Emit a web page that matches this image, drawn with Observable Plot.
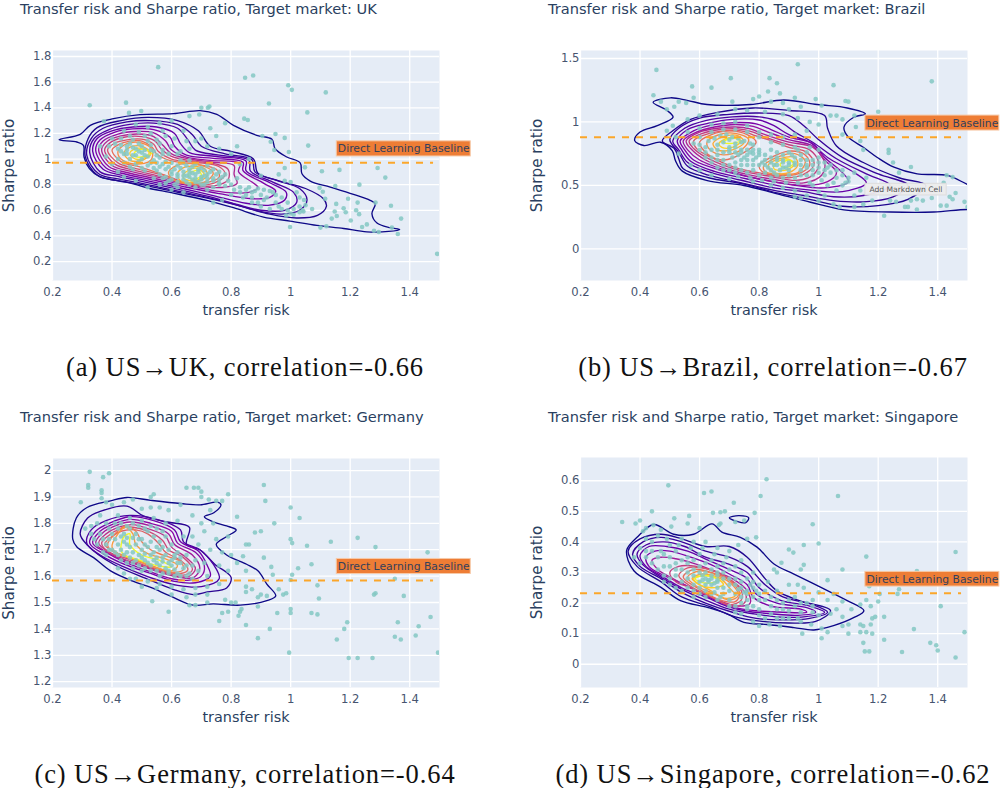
<!DOCTYPE html>
<html><head><meta charset="utf-8">
<script src="https://cdn.jsdelivr.net/npm/d3@7"></script>
<script src="https://cdn.jsdelivr.net/npm/@observablehq/plot@0.6"></script>
<style>
html,body{margin:0;padding:0;background:#fff;}
#page{position:relative;width:1000px;height:788px;overflow:hidden;}
.title{position:absolute;font:14.6px "DejaVu Sans",sans-serif;color:#2a3f5f;white-space:nowrap;line-height:18px;}
.cap{position:absolute;font:26.5px "Liberation Serif",serif;letter-spacing:.9px;color:#111;white-space:nowrap;text-align:center;width:500px;line-height:28px;}
svg{position:absolute;overflow:visible;}
</style></head><body><div id="page"></div>
<script>
const xTicks=[0.2,0.4,0.6,0.8,1,1.2,1.4];
const ukTicks=[0.2,0.4,0.6,0.8,1,1.2,1.4,1.6,1.8];
const brTicks=[0,0.5,1,1.5];
const deTicks=[1.2,1.3,1.4,1.5,1.6,1.7,1.8,1.9,2];
const sgTicks=[0,0.1,0.2,0.3,0.4,0.5,0.6];

const ukPoints=[[.555,1.717],[.325,1.42],[.447,1.44],[.457,1.36],[.498,1.375],[.373,1.295],[.847,1.634],[.874,1.652],[.992,1.576],[1.004,1.54],[1.118,1.52],[.927,1.433],[1.056,1.364],[.70,1.40],[.722,1.40],[.727,1.41],[.693,1.347],[.66,1.335],[.844,1.315],[.856,1.305],[.905,1.18],[.949,1.195],[.98,1.165],[.933,1.135],[1.059,1.105],[.994,1.055],[.945,1.07],[1.048,.935],[1.164,.915],[1.105,.905],[1.292,.93],[1.318,.855],[1.231,.80],[1.15,.79],[1.337,.635],[1.285,.66],[1.371,.535],[1.36,.415],[1.296,.43],[1.28,.44],[1.34,.465],[1.492,.26],[1.256,.49],[1.24,.47],[1.202,.52],[1.138,.535],[1.155,.555],[1.148,.59],[1.185,.585],[1.178,.615],[1.153,.65],[1.193,.69],[1.225,.66],[1.22,.60],[1.23,.57],[1.097,.775],[1.108,.745],[1.116,.69],[1.072,.61],[1.043,.59],[1.10,.465],[1.12,.475],[.998,.47],[1.0,.575],[.985,.56],[1.01,.565],[1.03,.585],[1.04,.60],[1.05,.64],[1.045,.68],[1.03,.70],[1.02,.74],[1.0,.82],[.98,.83],[.96,.88],[.98,.93],[.90,.87],[.86,.78],[.88,.75],[.90,.72],[.92,.70],[.94,.74],[.97,.70],[.99,.66],[.96,.63],[.93,.61],[.90,.63],[.87,.66],[.84,.70],[.83,.74],[.80,.72],[.77,.68],[.74,.66],[.80,.80],[.82,.85],[.76,.80],[.72,.76],[.68,.78],[.64,.74],[.60,.76],[.56,.80],[.52,.78],[.48,.83],[.44,.86],[.42,.90],[.40,.96],[.38,1.02],[.36,1.10],[.40,1.16],[.44,1.22],[.48,1.27],[.52,1.25],[.56,1.28],[.60,1.30],[.64,1.22],[.70,1.16],[.73,1.24],[.75,1.18],[.78,1.28],[.82,1.10],[.80,1.04],[.76,1.08],[.72,1.10],[.68,1.14],[.66,1.08],[.86,1.0],[.83,.96],[.46,1.12],[.48,1.08],[.50,1.10],[.52,1.14],[.54,1.06],[.56,1.12],[.58,1.18],[.60,1.10],[.62,1.04],[.44,1.04],[.46,1.0],[.48,1.03],[.50,1.05],[.50,1.0],[.52,1.02],[.54,.99],[.56,1.01],[.58,.98],[.60,.97],[.62,.95],[.64,.97],[.66,.99],[.68,.96],[.70,.93],[.72,.95],[.74,.92],[.76,.90],[.78,.88],[.52,.95],[.54,.93],[.56,.94],[.58,.92],[.60,.90],[.62,.88],[.64,.90],[.66,.92],[.68,.88],[.70,.86],[.72,.88],[.74,.85],[.76,.84],[.50,.93],[.48,.96],[.46,.94],[.44,.97],[.42,1.0],[.42,1.08],[.56,.88],[.58,.86],[.60,.84],[.62,.82],[.64,.84],[.66,.86],[.68,.82],[.70,.80],[.72,.82],[.74,.78],[.66,.80],[.62,.78],[.58,.81],[.54,.85],[.51,1.07],[.49,1.06],[.53,1.07],[.67,.89],[.69,.90],[.71,.87],[.65,.87],[.47,1.09],[.45,1.07],[.43,1.11],[.47,1.15],[.51,1.18],[.55,1.15],[.53,1.11],[.57,1.07],[.55,1.03],[.59,1.04],[.47,1.03],[.45,1.10],[.49,1.12],[.51,1.03],[.53,.97],[.49,.98],[.47,.92],[.51,.91],[.55,.91],[.57,.96],[.59,.94],[.61,.92],[.63,.93],[.65,.95],[.67,.94],[.69,.92],[.71,.91],[.73,.90],[.75,.88],[.77,.86],[.79,.83],[.60,.88],[.62,.86],[.64,.87],[.66,.89],[.68,.85],[.70,.84],[.72,.85],[.74,.83],[.76,.81],[.78,.79],[.81,.76],[.83,.78],[.85,.76],[.87,.74],[.89,.77],[.91,.76],[.93,.75],[.95,.72],[.91,.68],[.89,.66],[.95,.66],[.97,.61],[.99,.60],[1.01,.61],[1.03,.63],[.87,.70],[.85,.72],[.55,.97],[.65,.82],[.67,.84],[.69,.82],[.71,.80],[.61,.80],[.59,.83],[.57,.85],[.63,.99],[.57,1.04],[.45,1.04],[.43,1.06],[.41,1.12],[.39,1.10],[.43,1.16],[.46,1.18],[.49,1.21],[.53,1.2],[.57,1.22],[.61,1.16],[.65,1.14],[.63,1.06]];
const brPoints=[[.455,1.41],[.445,1.21],[.47,1.16],[.49,1.10],[.515,1.12],[.53,1.16],[.555,1.15],[.58,1.19],[.575,1.28],[.64,1.27],[.705,1.345],[.71,1.16],[.835,1.345],[.86,1.305],[.83,1.24],[.87,1.225],[.93,1.455],[1.05,1.29],[1.38,1.32],[1.20,1.08],[.80,1.20],[.78,1.18],[.84,1.16],[.88,1.15],[.92,1.19],[.99,1.18],[1.09,1.165],[1.10,1.16],[1.01,1.13],[.94,1.12],[.90,1.1],[1.04,1.05],[1.06,1.05],[1.08,1.02],[1.12,1.05],[1.125,.96],[1.08,.90],[1.14,.85],[1.15,.78],[1.235,.78],[1.235,.755],[1.25,.68],[1.31,.645],[1.27,.60],[1.43,.58],[1.45,.565],[1.42,.52],[1.46,.44],[1.49,.37],[1.45,.39],[1.43,.34],[1.41,.34],[1.44,.41],[1.50,.33],[1.38,.40],[1.33,.39],[1.31,.38],[1.35,.38],[1.30,.33],[1.29,.33],[1.33,.31],[1.22,.26],[1.26,.37],[1.24,.38],[1.18,.38],[1.15,.35],[1.12,.33],[1.07,.33],[1.05,.35],[1.0,.38],[1.02,.42],[1.0,.45],[.96,.42],[.94,.40],[.92,.41],[1.06,.46],[1.08,.50],[1.10,.53],[1.14,.46],[1.12,.42],[1.03,.50],[.98,.50],[.92,.46],[.88,.48],[.84,.50],[.78,.53],[.70,.55],[.64,.58],[.60,.62],[.57,.66],[.53,.75],[.51,.97],[.49,.93],[.52,.88],[.56,1.02],[.60,1.05],[.66,1.06],[.72,1.10],[.76,1.09],[.82,1.08],[.88,1.06],[.93,1.03],[.97,1.0],[1.0,.98],[.96,.93],[.92,.90],[.88,.88],[.84,.90],[.80,.92],[.76,.97],[.72,1.0],[.68,.99],[.64,.98],[.60,.95],[.56,.92],[.58,.83],[.60,.78],[.62,.72],[.64,.68],[.66,.64],[.68,.70],[.70,.76],[.72,.80],[.74,.84],[.66,.82],[.68,.84],[.70,.86],[.72,.83],[.70,.80],[.66,.78],[.74,.78],[.76,.74],[.78,.78],[.80,.74],[.78,.70],[.76,.66],[.74,.70],[.72,.68],[.70,.62],[.74,.62],[.78,.62],[.82,.60],[.80,.66],[.82,.70],[.84,.68],[.86,.72],[.88,.70],[.90,.68],[.92,.66],[.89,.64],[.87,.62],[.85,.60],[.90,.62],[.94,.62],[.96,.66],[.94,.70],[.98,.62],[1.0,.60],[1.02,.58],[1.04,.60],[1.03,.64],[1.0,.68],[.96,.58],[.92,.56],[.88,.56],[.84,.56],[.80,.58],[.76,.60],[1.06,.56],[1.08,.58],[1.12,.60],[1.16,.56],[1.10,.56],[.78,.82],[.80,.78],[.77,.76],[.75,.72],[.79,.72],[.81,.68],[.83,.64],[.85,.66],[.73,.74],[.71,.72],[.91,.74],[.93,.78],[.97,.80],[1.0,.78],[.63,.85],[.65,.87],[.67,.89],[.69,.90],[.71,.88],[.73,.87],[.75,.85],[.77,.83],[.62,.80],[.64,.78],[.66,.74],[.68,.76],[.70,.78],[.72,.76],[.74,.76],[.76,.78],[.78,.75],[.80,.76],[.82,.74],[.84,.72],[.86,.70],[.88,.68],[.90,.66],[.92,.68],[.94,.66],[.96,.64],[.98,.66],[1.0,.64],[1.02,.62],[.86,.66],[.88,.64],[.84,.62],[.86,.58],[.90,.58],[.94,.58],[.98,.58],[.82,.66],[.78,.66],[.76,.70],[.74,.66],[.72,.64],[.70,.66],[.68,.66],[.68,.62],[.72,.60],[.66,.70],[.64,.72],[.62,.76],[.60,.82],[.60,.88],[.64,.92],[.68,.94],[.72,.94],[.76,.92],[.80,.88],[.84,.84],[.88,.82],[.92,.80],[.96,.76],[1.0,.72],[.84,.78],[.86,.76],[.88,.74],[.90,.76],[.92,.72],[.94,.74],[.96,.70],[.98,.70],[1.02,.68],[1.04,.66],[1.06,.62],[1.08,.62],[.93,.52],[.97,.52],[1.01,.54],[1.05,.52],[1.09,.52],[.89,.52],[.85,.53],[.81,.54],[.77,.56],[.73,.57]];
const dePoints=[[.325,1.995],[.39,1.99],[.37,1.975],[.32,1.945],[.32,1.935],[.365,1.925],[.365,1.915],[.365,1.895],[.295,1.88],[.38,1.88],[.54,1.91],[.53,1.90],[.65,1.935],[.675,1.935],[.69,1.935],[.70,1.92],[.70,1.90],[.725,1.89],[.79,1.91],[.91,1.945],[.915,1.885],[.82,1.825],[.75,1.885],[.77,1.885],[1.0,1.86],[1.03,1.82],[.945,1.80],[.90,1.77],[.88,1.765],[1.0,1.74],[1.005,1.725],[1.055,1.715],[1.135,1.73],[1.225,1.745],[1.285,1.71],[1.46,1.69],[.86,1.72],[.85,1.72],[.84,1.675],[.91,1.67],[.935,1.635],[1.07,1.645],[1.025,1.63],[1.005,1.605],[1.0,1.585],[.94,1.605],[.96,1.55],[.975,1.53],[.985,1.535],[1.09,1.565],[1.095,1.515],[1.285,1.535],[1.28,1.53],[1.38,1.525],[1.35,1.59],[.955,1.46],[1.0,1.475],[1.0,1.46],[1.07,1.46],[1.09,1.455],[1.19,1.425],[1.18,1.40],[1.36,1.425],[1.43,1.41],[1.47,1.445],[1.42,1.375],[1.35,1.37],[1.37,1.36],[1.155,1.36],[.93,1.40],[.89,1.365],[.995,1.31],[1.195,1.29],[1.225,1.29],[1.275,1.29],[1.495,1.31],[.85,1.415],[.76,1.43],[.77,1.46],[.79,1.465],[.825,1.45],[.83,1.465],[.835,1.475],[.89,1.485],[.59,1.465],[.535,1.505],[.66,1.49],[.68,1.49],[.72,1.50],[.78,1.51],[.80,1.50],[.815,1.50],[.89,1.52],[.90,1.53],[.92,1.525],[.85,1.56],[.85,1.54],[.87,1.55],[.76,1.57],[.72,1.56],[.68,1.555],[.65,1.52],[.60,1.53],[.55,1.555],[.50,1.56],[.46,1.59],[.42,1.63],[.38,1.68],[.34,1.74],[.31,1.78],[.33,1.79],[.36,1.83],[.40,1.87],[.44,1.88],[.47,1.89],[.50,1.855],[.53,1.86],[.56,1.86],[.59,1.85],[.63,1.87],[.67,1.83],[.70,1.80],[.73,1.85],[.74,1.80],[.71,1.77],[.75,1.74],[.79,1.75],[.77,1.69],[.80,1.68],[.82,1.65],[.79,1.62],[.85,1.62],[.76,1.64],[.72,1.60],[.66,1.61],[.64,1.75],[.62,1.81],[.58,1.80],[.54,1.82],[.50,1.81],[.46,1.82],[.42,1.83],[.38,1.80],[.36,1.76],[.40,1.76],[.42,1.78],[.44,1.76],[.46,1.78],[.48,1.76],[.50,1.74],[.52,1.77],[.54,1.75],[.56,1.73],[.58,1.75],[.60,1.72],[.62,1.69],[.65,1.68],[.68,1.66],[.38,1.72],[.40,1.70],[.42,1.72],[.44,1.73],[.46,1.71],[.48,1.72],[.50,1.70],[.52,1.71],[.54,1.69],[.56,1.70],[.58,1.68],[.60,1.66],[.62,1.65],[.64,1.63],[.42,1.68],[.44,1.68],[.46,1.67],[.48,1.66],[.50,1.67],[.52,1.65],[.54,1.66],[.56,1.64],[.58,1.63],[.60,1.64],[.62,1.61],[.50,1.62],[.53,1.62],[.56,1.60],[.59,1.61],[.47,1.63],[.47,1.745],[.51,1.685],[.55,1.67],[.57,1.655],[.61,1.625],[.45,1.745],[.43,1.70],[.39,1.78],[.41,1.80],[.43,1.80],[.45,1.79],[.47,1.80],[.49,1.79],[.51,1.78],[.53,1.79],[.55,1.78],[.57,1.77],[.37,1.74],[.39,1.74],[.41,1.74],[.43,1.75],[.45,1.72],[.49,1.74],[.51,1.72],[.53,1.73],[.55,1.71],[.57,1.71],[.59,1.70],[.61,1.68],[.63,1.67],[.67,1.64],[.39,1.70],[.41,1.69],[.43,1.66],[.45,1.69],[.47,1.69],[.49,1.68],[.51,1.66],[.53,1.68],[.55,1.65],[.57,1.67],[.59,1.65],[.61,1.67],[.63,1.65],[.65,1.64],[.45,1.65],[.47,1.65],[.49,1.64],[.51,1.63],[.53,1.64],[.55,1.62],[.57,1.61],[.59,1.62],[.61,1.60],[.63,1.60],[.65,1.60],[.67,1.59],[.69,1.62],[.71,1.65],[.73,1.70],[.69,1.72],[.67,1.75],[.35,1.80],[.33,1.76],[.35,1.72],[.37,1.69],[.44,1.61],[.48,1.59],[.52,1.58],[.56,1.57],[.60,1.56],[.64,1.55],[.68,1.53],[.72,1.53]];
const sgPoints=[[.495,.585],[.615,.56],[.64,.565],[.825,.605],[.805,.55],[.715,.528],[.645,.495],[.67,.497],[.685,.50],[.785,.495],[.44,.50],[.565,.485],[.515,.477],[.34,.465],[.385,.46],[.40,.47],[.56,.46],[.42,.445],[.445,.455],[.41,.435],[.505,.45],[.47,.44],[.60,.445],[.67,.46],[.665,.455],[.72,.465],[.75,.47],[.98,.458],[1.065,.55],[.79,.415],[.76,.41],[.73,.39],[1.0,.395],[.90,.375],[.915,.365],[.95,.39],[.875,.332],[.95,.325],[.94,.31],[.85,.31],[.86,.30],[1.08,.31],[1.16,.352],[1.46,.367],[1.33,.305],[1.03,.275],[1.17,.255],[1.27,.245],[1.265,.23],[1.205,.23],[1.16,.21],[1.20,.205],[1.175,.19],[1.41,.19],[1.08,.205],[1.11,.18],[1.14,.195],[1.19,.155],[1.18,.15],[1.22,.155],[1.08,.155],[1.175,.13],[1.14,.13],[1.15,.125],[1.10,.10],[1.14,.105],[1.16,.105],[1.18,.10],[1.22,.08],[1.32,.115],[1.49,.105],[1.15,.07],[1.155,.042],[1.17,.042],[1.28,.04],[1.375,.07],[1.395,.062],[1.4,.045],[1.46,.022],[1.01,.085],[1.03,.105],[1.01,.117],[1.08,.125],[1.10,.13],[.945,.10],[.975,.13],[.87,.125],[.80,.125],[.835,.13],[.78,.14],[.82,.15],[.88,.15],[.93,.15],[1.04,.165],[1.06,.18],[1.03,.21],[.98,.21],[1.0,.235],[1.05,.23],[.98,.19],[.94,.17],[.92,.19],[.90,.175],[.88,.20],[.86,.18],[.84,.165],[.80,.18],[.76,.19],[.74,.165],[.84,.22],[.86,.24],[.90,.26],[.93,.26],[.95,.25],[.83,.27],[.80,.26],[.78,.30],[.74,.34],[.70,.37],[.66,.38],[.62,.40],[.58,.40],[.54,.41],[.50,.39],[.46,.42],[.42,.41],[.40,.38],[.38,.35],[.42,.35],[.44,.37],[.48,.36],[.52,.37],[.56,.35],[.60,.36],[.64,.34],[.68,.33],[.72,.32],[.76,.28],[.44,.33],[.48,.32],[.50,.35],[.52,.33],[.54,.31],[.56,.33],[.58,.31],[.60,.32],[.62,.30],[.64,.31],[.66,.29],[.68,.30],[.70,.28],[.72,.26],[.74,.27],[.76,.24],[.78,.22],[.80,.21],[.48,.29],[.52,.29],[.54,.27],[.56,.28],[.58,.26],[.60,.27],[.62,.28],[.64,.26],[.66,.27],[.68,.25],[.70,.24],[.72,.23],[.74,.22],[.76,.21],[.54,.24],[.58,.24],[.60,.23],[.62,.22],[.65,.235],[.67,.22],[.70,.21],[.72,.19],[.64,.28],[.63,.275],[.61,.275],[.66,.275],[.65,.265],[.73,.245],[.75,.235],[.77,.26],[.79,.24],[.46,.35],[.50,.32],[.54,.34],[.58,.34],[.62,.33],[.66,.32],[.70,.31],[.74,.30],[.78,.27],[.82,.24],[.46,.31],[.50,.28],[.52,.31],[.56,.30],[.58,.29],[.60,.30],[.62,.26],[.64,.29],[.66,.25],[.68,.28],[.70,.26],[.72,.28],[.74,.25],[.76,.23],[.78,.25],[.80,.23],[.82,.21],[.84,.19],[.86,.21],[.88,.18],[.90,.21],[.92,.22],[.94,.20],[.96,.20],[.98,.17],[1.0,.16],[.56,.25],[.58,.22],[.62,.24],[.64,.23],[.66,.21],[.68,.23],[.70,.19],[.74,.20],[.76,.18],[.78,.19],[.72,.17],[.80,.16],[.86,.15],[.90,.15],[.94,.14],[.47,.37],[.49,.41],[.53,.39],[.57,.38],[.61,.38],[.65,.36],[.69,.35],[.40,.33],[.42,.37],[.44,.40],[.52,.25],[.50,.26],[.48,.27],[.60,.25],[.63,.27],[.61,.29],[.66,.30]];

const ukContours=[
[[.222,1.15],[.293,1.193],[.327,1.263],[.405,1.315],[.494,1.346],[.606,1.354],[.696,1.378],[.752,1.349],[.808,1.263],[.886,1.185],[.937,1.154],[.948,1.08],[.987,1.016],[1.032,.97],[1.038,.885],[1.066,.828],[1.133,.781],[1.211,.724],[1.267,.677],[1.284,.651],[1.273,.573],[1.29,.50],[1.335,.464],[1.366,.451],[1.329,.435],[1.256,.432],[1.178,.458],[1.088,.482],[.998,.516],[.909,.547],[.808,.62],[.718,.677],[.606,.734],[.517,.776],[.45,.82],[.36,.86],[.324,.925],[.306,1.016],[.304,1.107],[.282,1.133]],
[[.31,1.02],[.32,1.16],[.35,1.245],[.43,1.30],[.52,1.325],[.62,1.30],[.69,1.22],[.73,1.10],[.80,1.06],[.875,1.0],[.89,.89],[.96,.83],[1.05,.77],[1.11,.69],[1.12,.63],[1.09,.56],[1.02,.54],[.93,.57],[.82,.64],[.72,.695],[.60,.75],[.50,.80],[.42,.83],[.35,.875]],
[[.315,1.03],[.33,1.16],[.37,1.24],[.45,1.29],[.53,1.30],[.62,1.27],[.67,1.19],[.70,1.10],[.78,1.04],[.87,.995],[.88,.90],[.95,.835],[1.03,.77],[1.055,.68],[1.03,.60],[.97,.57],[.88,.60],[.80,.655],[.70,.71],[.60,.76],[.50,.81],[.42,.845],[.355,.885]],
[[.325,1.05],[.34,1.16],[.39,1.23],[.46,1.27],[.54,1.28],[.62,1.24],[.655,1.15],[.68,1.07],[.76,1.03],[.86,.99],[.865,.905],[.94,.82],[1.01,.74],[1.02,.66],[.98,.60],[.90,.60],[.82,.645],[.72,.71],[.60,.775],[.50,.825],[.42,.865],[.36,.90]],
[[.335,1.06],[.35,1.16],[.40,1.22],[.47,1.25],[.55,1.25],[.61,1.20],[.63,1.12],[.66,1.05],[.75,1.02],[.85,.985],[.85,.91],[.93,.815],[.985,.74],[.98,.68],[.93,.64],[.85,.655],[.74,.715],[.62,.78],[.52,.83],[.43,.875],[.37,.92]],
[[.345,1.07],[.36,1.15],[.41,1.21],[.47,1.235],[.54,1.23],[.595,1.17],[.61,1.10],[.65,1.03],[.74,1.005],[.84,.975],[.84,.91],[.91,.81],[.95,.75],[.93,.70],[.87,.69],[.76,.73],[.64,.785],[.53,.84],[.44,.885],[.38,.93]],
[[.355,1.07],[.37,1.14],[.42,1.195],[.48,1.215],[.54,1.205],[.58,1.14],[.60,1.07],[.65,1.015],[.73,.99],[.83,.965],[.825,.90],[.87,.82],[.89,.78],[.86,.74],[.78,.74],[.66,.79],[.54,.85],[.45,.895],[.39,.94]],
[[.365,1.07],[.385,1.14],[.43,1.18],[.49,1.195],[.54,1.175],[.57,1.11],[.60,1.04],[.66,1.00],[.74,.975],[.81,.95],[.81,.88],[.82,.81],[.78,.78],[.68,.79],[.56,.855],[.46,.905],[.40,.95]],
[[.375,1.07],[.395,1.13],[.44,1.17],[.50,1.175],[.545,1.14],[.565,1.08],[.60,1.02],[.67,.985],[.75,.96],[.79,.92],[.79,.84],[.74,.79],[.66,.80],[.57,.86],[.47,.915],[.41,.96]],
[[.385,1.07],[.41,1.125],[.45,1.15],[.50,1.155],[.54,1.115],[.555,1.06],[.60,1.00],[.68,.975],[.76,.94],[.78,.88],[.74,.81],[.66,.805],[.58,.87],[.48,.925],[.42,.97]],
[[.40,1.07],[.42,1.11],[.46,1.14],[.50,1.14],[.535,1.09],[.55,1.04],[.60,.985],[.68,.96],[.75,.92],[.76,.86],[.70,.81],[.63,.82],[.57,.88],[.49,.94],[.43,.98]],
[[.42,1.06],[.45,1.12],[.50,1.125],[.535,1.07],[.53,.99],[.48,.96],[.43,1.0]],
[[.59,.90],[.63,.96],[.70,.95],[.74,.89],[.71,.82],[.64,.81],[.60,.85]],
[[.44,1.05],[.47,1.10],[.51,1.09],[.53,1.04],[.50,.99],[.46,.99]],
[[.62,.89],[.65,.94],[.71,.925],[.72,.87],[.68,.82],[.63,.83]],
[[.46,1.05],[.49,1.085],[.525,1.05],[.50,1.00],[.47,1.01]],
[[.64,.88],[.68,.93],[.71,.88],[.68,.83],[.64,.85]],
[[.475,1.05],[.50,1.075],[.535,1.05],[.51,1.02],[.48,1.02]],
[[.655,.88],[.69,.91],[.70,.87],[.67,.84]]];
const ukLevels=[0,1,2,3,4,5,6,7,8,9,10,11,11,12,12,13,13,14,14];

const brContours=[
[[.444,1.155],[.502,1.19],[.558,1.17],[.625,1.137],[.771,1.137],[.883,1.173],[.995,1.137],[1.096,1.11],[1.157,1.063],[1.118,1.037],[1.085,.958],[1.10,.88],[1.15,.80],[1.197,.72],[1.253,.643],[1.331,.59],[1.432,.578],[1.502,.505],[1.56,.45],[1.56,.30],[1.5,.31],[1.387,.29],[1.241,.29],[1.085,.307],[.973,.367],[.861,.433],[.749,.499],[.626,.538],[.542,.612],[.519,.695],[.508,.774],[.469,.84],[.413,.814],[.382,.853],[.40,.92],[.458,.971],[.511,1.037],[.491,1.09]],
[[.475,.85],[.51,.93],[.57,1.02],[.66,1.075],[.78,1.11],[.90,1.09],[1.02,1.05],[1.03,.95],[1.06,.81],[1.15,.68],[1.27,.56],[1.36,.50],[1.30,.39],[1.2,.34],[1.08,.335],[.97,.39],[.86,.44],[.75,.51],[.63,.56],[.545,.63],[.53,.71],[.515,.79]],
[[.50,.86],[.53,.95],[.60,1.03],[.70,1.06],[.80,1.07],[.90,1.05],[.95,.97],[1.0,.86],[1.08,.72],[1.2,.59],[1.30,.50],[1.25,.41],[1.15,.37],[1.05,.38],[.95,.42],[.85,.46],[.74,.52],[.63,.58],[.56,.65],[.53,.76]],
[[.51,.85],[.55,.95],[.62,1.01],[.71,1.04],[.80,1.04],[.87,1.0],[.92,.92],[.98,.84],[1.06,.71],[1.16,.59],[1.24,.50],[1.15,.42],[1.05,.41],[.95,.45],[.85,.48],[.74,.54],[.64,.60],[.56,.68],[.53,.78]],
[[.525,.85],[.56,.94],[.63,.99],[.71,1.02],[.80,1.015],[.85,.97],[.90,.90],[.97,.84],[1.03,.72],[1.12,.60],[1.16,.52],[1.08,.45],[.98,.46],[.88,.49],[.76,.55],[.65,.61],[.57,.69],[.54,.78]],
[[.535,.85],[.58,.93],[.64,.975],[.72,.995],[.79,.985],[.84,.94],[.90,.88],[.98,.83],[1.02,.72],[1.08,.60],[1.10,.53],[1.02,.48],[.92,.50],[.78,.56],[.67,.62],[.58,.70],[.55,.78]],
[[.545,.85],[.59,.92],[.65,.96],[.72,.98],[.78,.965],[.83,.92],[.90,.86],[.98,.81],[1.02,.70],[1.06,.60],[1.03,.53],[.95,.50],[.82,.54],[.70,.61],[.60,.70],[.56,.78]],
[[.555,.85],[.60,.92],[.66,.95],[.72,.96],[.77,.945],[.82,.90],[.90,.84],[.98,.80],[1.02,.68],[1.01,.58],[.95,.52],[.84,.55],[.72,.61],[.62,.70],[.57,.79]],
[[.565,.85],[.61,.91],[.67,.94],[.73,.945],[.78,.92],[.82,.88],[.90,.82],[.97,.78],[1.0,.68],[.985,.59],[.93,.54],[.84,.57],[.73,.62],[.63,.71],[.58,.79]],
[[.58,.85],[.62,.90],[.68,.93],[.74,.93],[.79,.89],[.83,.86],[.90,.80],[.96,.76],[.985,.67],[.96,.60],[.90,.56],[.82,.59],[.72,.64],[.64,.72],[.59,.79]],
[[.60,.84],[.64,.90],[.70,.93],[.76,.90],[.79,.84],[.75,.76],[.68,.70],[.63,.74]],
[[.80,.66],[.84,.72],[.90,.77],[.955,.74],[.97,.66],[.93,.59],[.86,.58],[.81,.61]],
[[.625,.84],[.66,.895],[.72,.91],[.765,.86],[.74,.78],[.68,.74],[.635,.78]],
[[.815,.65],[.86,.72],[.92,.75],[.955,.69],[.93,.60],[.86,.59],[.82,.61]],
[[.645,.83],[.68,.885],[.73,.89],[.75,.84],[.71,.78],[.66,.78]],
[[.83,.655],[.87,.71],[.92,.72],[.93,.66],[.90,.60],[.85,.60]],
[[.665,.83],[.70,.875],[.74,.85],[.71,.80],[.675,.80]],
[[.85,.66],[.89,.71],[.92,.67],[.89,.62],[.85,.63]],
[[.68,.84],[.71,.875],[.735,.85],[.70,.83]],
[[.87,.66],[.90,.70],[.915,.67],[.89,.64]]];
const brLevels=[0,1,2,3,4,5,6,7,8,9,10,10,11,11,12,12,13,13,14,14];

const deContours=[
[[.268,1.74],[.28,1.82],[.316,1.86],[.395,1.885],[.45,1.898],[.53,1.887],[.63,1.875],[.696,1.87],[.753,1.88],[.766,1.87],[.742,1.84],[.71,1.825],[.742,1.805],[.785,1.79],[.817,1.775],[.785,1.75],[.75,1.72],[.785,1.68],[.852,1.645],[.89,1.62],[.92,1.57],[.95,1.525],[.92,1.507],[.83,1.49],[.74,1.495],[.673,1.49],[.595,1.525],[.53,1.557],[.472,1.58],[.395,1.62],[.338,1.67],[.282,1.71]],
[[.293,1.76],[.318,1.82],[.36,1.845],[.45,1.865],[.505,1.828],[.585,1.805],[.66,1.785],[.65,1.72],[.695,1.70],[.745,1.645],[.80,1.595],[.785,1.555],[.72,1.54],[.673,1.53],[.605,1.55],[.517,1.59],[.405,1.645],[.315,1.72]],
[[.315,1.725],[.33,1.775],[.38,1.81],[.46,1.83],[.55,1.815],[.63,1.775],[.64,1.73],[.695,1.70],[.74,1.645],[.76,1.59],[.70,1.56],[.62,1.565],[.54,1.59],[.44,1.635],[.36,1.68]],
[[.325,1.725],[.345,1.77],[.39,1.80],[.46,1.825],[.54,1.81],[.61,1.775],[.63,1.73],[.69,1.695],[.72,1.64],[.73,1.60],[.68,1.575],[.61,1.58],[.53,1.61],[.44,1.645],[.37,1.685]],
[[.335,1.725],[.36,1.77],[.40,1.795],[.46,1.815],[.53,1.80],[.60,1.77],[.62,1.725],[.68,1.69],[.71,1.64],[.70,1.60],[.66,1.585],[.60,1.59],[.52,1.62],[.44,1.655],[.38,1.69]],
[[.345,1.725],[.37,1.765],[.41,1.79],[.46,1.805],[.53,1.79],[.59,1.76],[.61,1.72],[.67,1.68],[.695,1.63],[.675,1.595],[.63,1.595],[.56,1.615],[.48,1.645],[.41,1.675]],
[[.355,1.725],[.38,1.76],[.42,1.785],[.47,1.795],[.52,1.78],[.58,1.75],[.60,1.71],[.65,1.67],[.68,1.63],[.66,1.60],[.61,1.60],[.53,1.63],[.46,1.655],[.40,1.685]],
[[.365,1.725],[.39,1.755],[.43,1.78],[.47,1.785],[.52,1.77],[.57,1.735],[.59,1.70],[.64,1.67],[.67,1.625],[.645,1.605],[.59,1.61],[.51,1.64],[.44,1.67],[.39,1.69]],
[[.375,1.72],[.40,1.75],[.43,1.77],[.48,1.775],[.52,1.76],[.56,1.72],[.58,1.69],[.63,1.66],[.655,1.625],[.63,1.61],[.57,1.62],[.49,1.655],[.42,1.685]],
[[.385,1.72],[.41,1.76],[.445,1.79],[.48,1.77],[.50,1.73],[.53,1.70],[.57,1.68],[.63,1.655],[.64,1.625],[.60,1.615],[.52,1.645],[.45,1.675],[.40,1.695]],
[[.40,1.71],[.42,1.76],[.445,1.785],[.47,1.76],[.48,1.72],[.52,1.685],[.58,1.665],[.62,1.64],[.60,1.62],[.54,1.635],[.47,1.665],[.42,1.685]],
[[.43,1.70],[.44,1.75],[.46,1.76],[.46,1.72],[.50,1.68],[.56,1.66],[.60,1.635],[.55,1.64],[.48,1.665],[.44,1.68]]];
const deLevels=[0,1.5,3,4.5,5.5,6.5,7.5,8.5,9.5,10.5,11.5,14];

const sgContours=[
[[.355,.372],[.39,.415],[.446,.457],[.513,.425],[.58,.425],[.642,.459],[.675,.432],[.737,.415],[.793,.383],[.85,.328],[.917,.295],[1.006,.252],[1.096,.208],[1.152,.175],[1.119,.153],[1.05,.126],[.984,.112],[.917,.12],[.827,.13],[.749,.137],[.693,.165],[.626,.186],[.536,.208],[.469,.252],[.38,.305]],
[[.70,.479],[.731,.486],[.765,.479],[.755,.463],[.726,.467]],
[[.36,.37],[.40,.41],[.47,.425],[.54,.41],[.62,.385],[.70,.385],[.76,.35],[.82,.28],[.86,.24],[.93,.21],[1.04,.175],[.99,.14],[.90,.135],[.81,.14],[.72,.155],[.63,.19],[.54,.22],[.47,.27],[.39,.32]],
[[.375,.36],[.41,.40],[.47,.415],[.54,.40],[.62,.37],[.70,.35],[.76,.32],[.82,.26],[.88,.22],[.98,.195],[1.03,.17],[.97,.15],[.88,.145],[.79,.15],[.71,.17],[.62,.20],[.54,.235],[.47,.28],[.40,.32]],
[[.39,.36],[.42,.39],[.48,.40],[.55,.385],[.62,.35],[.69,.33],[.76,.30],[.80,.25],[.87,.21],[.97,.19],[1.02,.17],[.95,.155],[.86,.155],[.78,.165],[.70,.18],[.62,.21],[.54,.245],[.47,.285],[.41,.325]],
[[.40,.355],[.43,.385],[.49,.385],[.56,.37],[.63,.34],[.70,.31],[.76,.28],[.79,.23],[.86,.20],[.96,.185],[.99,.17],[.93,.16],[.84,.165],[.75,.175],[.69,.19],[.62,.22],[.54,.25],[.47,.29],[.42,.32]],
[[.42,.35],[.45,.37],[.50,.37],[.57,.35],[.64,.325],[.70,.295],[.76,.26],[.78,.22],[.84,.19],[.94,.18],[.96,.17],[.88,.17],[.79,.175],[.72,.185],[.63,.22],[.55,.26],[.47,.295],[.43,.32]],
[[.44,.34],[.47,.35],[.52,.345],[.58,.33],[.65,.305],[.71,.28],[.76,.24],[.77,.20],[.73,.19],[.66,.21],[.58,.245],[.51,.28],[.46,.31]],
[[.50,.30],[.53,.32],[.59,.32],[.66,.30],[.72,.265],[.755,.23],[.75,.20],[.71,.19],[.64,.22],[.57,.25],[.52,.27]],
[[.53,.29],[.56,.315],[.63,.31],[.69,.285],[.74,.24],[.74,.21],[.70,.195],[.63,.225],[.57,.255]],
[[.545,.285],[.58,.31],[.64,.30],[.70,.275],[.735,.23],[.72,.205],[.67,.21],[.60,.245]],
[[.56,.285],[.60,.305],[.66,.29],[.71,.26],[.73,.225],[.70,.21],[.64,.235],[.59,.255]],
[[.575,.28],[.61,.295],[.67,.28],[.70,.25],[.72,.225],[.69,.215],[.63,.245],[.60,.26]],
[[.58,.28],[.62,.29],[.66,.28],[.68,.26],[.64,.25],[.60,.26]],
[[.585,.28],[.62,.29],[.665,.275],[.63,.265],[.60,.27]]];
const sgLevels=[0,0,1,2,3,4,5,6.5,8,9,10,11,12,13,14];

const panels=[
 {title:"Transfer risk and Sharpe ratio, Target market: UK",titleX:20,titleY:0,caption:"(a) US→UK, correlation=-0.66",capX:-5,capY:353,left:0,top:0,yd:[.052,1.847],ticks:ukTicks,pts:ukPoints,cs:ukContours,lv:ukLevels,base:.97,box:[1.155,1.605,1.02,1.138],mt:50,h:230},
 {title:"Transfer risk and Sharpe ratio, Target market: Brazil",titleX:548,titleY:0,caption:"(b) US→Brazil, correlation=-0.67",capX:523,capY:353,left:528,top:0,yd:[-.25,1.563],ticks:brTicks,pts:brPoints,cs:brContours,lv:brLevels,base:.88,box:[1.157,1.607,.932,1.05],mt:50,h:230,note:true},
 {title:"Transfer risk and Sharpe ratio, Target market: Germany",titleX:20,titleY:408,caption:"(c) US→Germany, correlation=-0.64",capX:-5,capY:760,left:0,top:408,yd:[1.178,2.0456],ticks:deTicks,pts:dePoints,cs:deContours,lv:deLevels,base:1.583,box:[1.155,1.605,1.608,1.665],mt:50,h:229},
 {title:"Transfer risk and Sharpe ratio, Target market: Singapore",titleX:548,titleY:408,caption:"(d) US→Singapore, correlation=-0.62",capX:523,capY:760,left:528,top:407,yd:[-.076,.676],ticks:sgTicks,pts:sgPoints,cs:sgContours,lv:sgLevels,base:.232,box:[1.157,1.607,.254,.302],mt:50,h:230}
];
const page=document.getElementById("page");
const fmt=d=>String(d);
for(const p of panels){
  const rows=p.cs.flatMap((c,i)=>c.map(([x,y])=>({x,y,ring:i,level:p.lv[i]})));
  const boxMidX=(p.box[0]+p.box[1])/2, boxMidY=(p.box[2]+p.box[3])/2;
  const marks=[
    Plot.frame({fill:"#e5ecf6",stroke:null}),
    Plot.gridX(xTicks,{stroke:"#fff",strokeOpacity:1,strokeWidth:1.3}),
    Plot.gridY(p.ticks,{stroke:"#fff",strokeOpacity:1,strokeWidth:1.3}),
    Plot.line(rows,{x:"x",y:"y",z:"ring",stroke:"level",strokeWidth:1.35,curve:"catmull-rom-closed",clip:true}),
    Plot.dot(p.pts,{x:d=>d[0],y:d=>d[1],r:2.3,fill:"#84c8c3",fillOpacity:.85,stroke:null,clip:true}),
    Plot.ruleY([p.base],{x1:.2,x2:1.48,stroke:"#fba62a",strokeWidth:2,strokeDasharray:"7,7"}),
    Plot.rect([0],{x1:()=>p.box[0],x2:()=>p.box[1],y1:()=>p.box[2],y2:()=>p.box[3],fill:"#ee7d35",stroke:"#f6c9a8",strokeWidth:1}),
    Plot.text(["Direct Learning Baseline"],{x:()=>boxMidX,y:()=>boxMidY,text:d=>d,fill:"#34405c",fontSize:10.8,fontFamily:"DejaVu Sans"})
  ];
  if(p.note){
    marks.push(Plot.rect([0],{x1:1.157,x2:1.43,y1:.42,y2:.512,fill:"#ececec",fillOpacity:.95,stroke:"#ddd"}));
    marks.push(Plot.text(["Add Markdown Cell"],{x:1.293,y:.466,text:d=>d,fill:"#555",fontSize:7.6,fontFamily:"DejaVu Sans"}));
  }
  const svg=Plot.plot({
    width:480,height:p.mt+p.h+50,marginLeft:52,marginRight:41,marginTop:p.mt,marginBottom:50,
    style:{background:"transparent",overflow:"visible",fontFamily:"DejaVu Sans"},
    x:{domain:[.2,1.5]},
    y:{domain:p.yd},
    color:{type:"pow",exponent:1.35,scheme:"plasma",domain:[0,14]},
    marks:[...marks,
      Plot.axisX(xTicks,{tickSize:0,tickPadding:7,tickFormat:fmt,fontSize:11.6,fill:"#46546f",label:"transfer risk",labelAnchor:"center",labelArrow:"none",labelOffset:34}),
      Plot.axisY(p.ticks,{tickSize:0,tickPadding:1,tickFormat:fmt,fontSize:11.6,fill:"#46546f",label:"Sharpe ratio",labelAnchor:"center",labelArrow:"none",labelOffset:49})
    ]
  });
  svg.style.left=p.left+"px";svg.style.top=p.top+"px";
  d3.select(svg).selectAll("g[aria-label='x-axis label']").style("font-size","14.4px").style("fill","#2a3f5f");
  d3.select(svg).selectAll("g[aria-label='y-axis label']").style("font-size","15.2px").style("fill","#2a3f5f");
  page.appendChild(svg);
  const t=document.createElement("div");t.className="title";t.textContent=p.title;t.style.left=p.titleX+"px";t.style.top=p.titleY+"px";page.appendChild(t);
  const c=document.createElement("div");c.className="cap";c.textContent=p.caption;c.style.left=p.capX+"px";c.style.top=p.capY+"px";page.appendChild(c);
}
</script></body></html>
